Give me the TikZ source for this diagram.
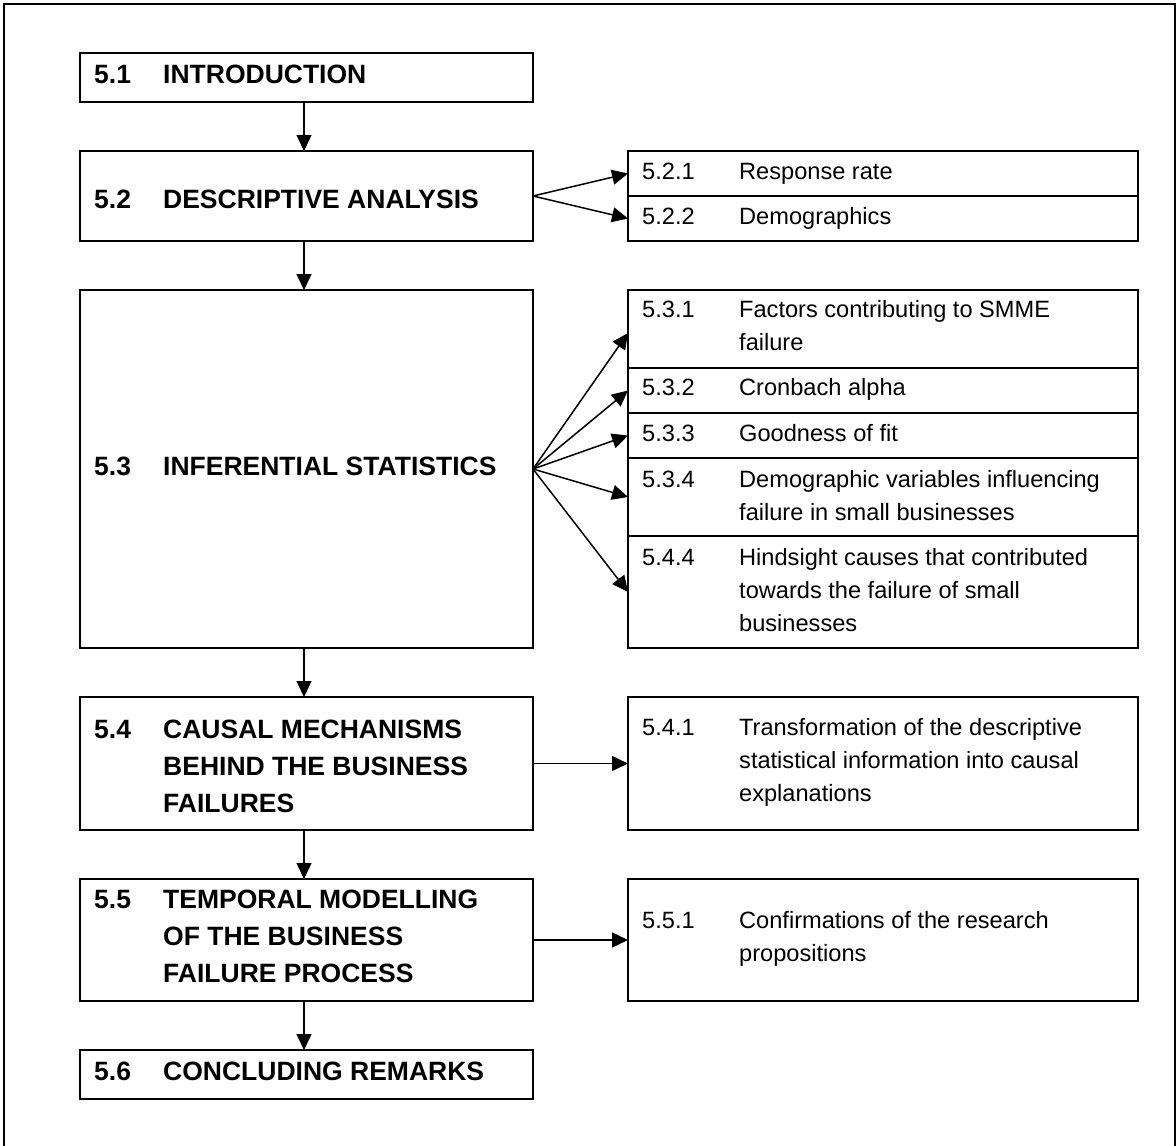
\documentclass[tikz,border=0pt]{standalone}
\usepackage{fontspec}
\setmainfont{Liberation Sans}
\usetikzlibrary{arrows.meta}
\begin{document}
\begin{tikzpicture}[x=1pt,y=-1pt,
  mainbox/.style={draw, line width=2.4pt, minimum width=453pt, inner sep=0pt, outer sep=0pt},
  subbox/.style={draw, line width=2.2pt, minimum width=510pt, inner sep=0pt, outer sep=0pt},
  maintxt/.style={anchor=base west, inner sep=0pt, font=\fontsize{26.5}{37}\selectfont\bfseries},
  subtxt/.style={anchor=base west, inner sep=0pt, font=\fontsize{23.6}{33}\selectfont},
  conn/.style={line width=1.5pt, -{Triangle[length=16pt,width=15pt]}},
  frameline/.style={line width=2pt}
]
\useasboundingbox (0,0) rectangle (1176,1146);
\fill[white] (0,0) rectangle (1176,1146);
\clip (0,0) rectangle (1176,1146);
\draw[frameline] (4,1170) -- (4,4) -- (1175,4) -- (1175,1170);

% main boxes
\node[mainbox, minimum height=49pt]  (b51) at (306.5,77.5) {};
\node[mainbox, minimum height=90pt]  (b52) at (306.5,196) {};
\node[mainbox, minimum height=358pt] (b53) at (306.5,469) {};
\node[mainbox, minimum height=133pt] (b54) at (306.5,763.5) {};
\node[mainbox, minimum height=122pt] (b55) at (306.5,940) {};
\node[mainbox, minimum height=49pt]  (b56) at (306.5,1074.5) {};

% sub boxes
\node[subbox, minimum height=45pt]  (s521) at (883,173.5) {};
\node[subbox, minimum height=45pt]  (s522) at (883,218.5) {};
\node[subbox, minimum height=78pt]  (s531) at (883,329) {};
\node[subbox, minimum height=45pt]  (s532) at (883,390.5) {};
\node[subbox, minimum height=45pt]  (s533) at (883,435.5) {};
\node[subbox, minimum height=78pt]  (s534) at (883,497) {};
\node[subbox, minimum height=112pt] (s544) at (883,592) {};
\node[subbox, minimum height=133pt] (s541) at (883,763.5) {};
\node[subbox, minimum height=122pt] (s551) at (883,940) {};

% main texts
\node[maintxt] (t51) at (94,83) {\begin{tabular}[t]{@{}p{69pt}@{}l@{}}5.1 & INTRODUCTION\end{tabular}};
\node[maintxt] (t52) at (94,208) {\begin{tabular}[t]{@{}p{69pt}@{}l@{}}5.2 & DESCRIPTIVE ANALYSIS\end{tabular}};
\node[maintxt] (t53) at (94,475) {\begin{tabular}[t]{@{}p{69pt}@{}l@{}}5.3 & INFERENTIAL STATISTICS\end{tabular}};
\node[maintxt] (t54) at (94,738) {\begin{tabular}[t]{@{}p{69pt}@{}l@{}}5.4 & CAUSAL MECHANISMS\\ & BEHIND THE BUSINESS\\ & FAILURES\end{tabular}};
\node[maintxt] (t55) at (94,908) {\begin{tabular}[t]{@{}p{69pt}@{}l@{}}5.5 & TEMPORAL MODELLING\\ & OF THE BUSINESS\\ & FAILURE PROCESS\end{tabular}};
\node[maintxt] (t56) at (94,1080) {\begin{tabular}[t]{@{}p{69pt}@{}l@{}}5.6 & CONCLUDING REMARKS\end{tabular}};

% sub texts
\node[subtxt] (u521) at (642,179) {\begin{tabular}[t]{@{}p{97pt}@{}l@{}}5.2.1 & Response rate\end{tabular}};
\node[subtxt] (u522) at (642,224) {\begin{tabular}[t]{@{}p{97pt}@{}l@{}}5.2.2 & Demographics\end{tabular}};
\node[subtxt] (u531) at (642,317) {\begin{tabular}[t]{@{}p{97pt}@{}l@{}}5.3.1 & Factors contributing to SMME\\ & failure\end{tabular}};
\node[subtxt] (u532) at (642,395) {\begin{tabular}[t]{@{}p{97pt}@{}l@{}}5.3.2 & Cronbach alpha\end{tabular}};
\node[subtxt] (u533) at (642,441) {\begin{tabular}[t]{@{}p{97pt}@{}l@{}}5.3.3 & Goodness of fit\end{tabular}};
\node[subtxt] (u534) at (642,487) {\begin{tabular}[t]{@{}p{97pt}@{}l@{}}5.3.4 & Demographic variables influencing\\ & failure in small businesses\end{tabular}};
\node[subtxt] (u544) at (642,565) {\begin{tabular}[t]{@{}p{97pt}@{}l@{}}5.4.4 & Hindsight causes that contributed\\ & towards the failure of small\\ & businesses\end{tabular}};
\node[subtxt] (u541) at (642,735) {\begin{tabular}[t]{@{}p{97pt}@{}l@{}}5.4.1 & Transformation of the descriptive\\ & statistical information into causal\\ & explanations\end{tabular}};
\node[subtxt] (u551) at (642,928) {\begin{tabular}[t]{@{}p{97pt}@{}l@{}}5.5.1 & Confirmations of the research\\ & propositions\end{tabular}};

% vertical connectors
\coordinate (ax) at (304,0);
\draw[conn] (b51.south -| ax) -- (b52.north -| ax);
\draw[conn] (b52.south -| ax) -- (b53.north -| ax);
\draw[conn] (b53.south -| ax) -- (b54.north -| ax);
\draw[conn] (b54.south -| ax) -- (b55.north -| ax);
\draw[conn] (b55.south -| ax) -- (b56.north -| ax);

% fan connectors
\draw[conn] (b52.east) -- (s521.west);
\draw[conn] (b52.east) -- (s522.west);
\draw[conn] (b53.east) -- ([yshift=-4pt]s531.west);
\draw[conn] (b53.east) -- (s532.west);
\draw[conn] (b53.east) -- (s533.west);
\draw[conn] (b53.east) -- (s534.west);
\draw[conn] (b53.east) -- (s544.west);
\draw[conn] (b54.east) -- (s541.west);
\draw[conn] (b55.east) -- (s551.west);
\end{tikzpicture}
\end{document}
